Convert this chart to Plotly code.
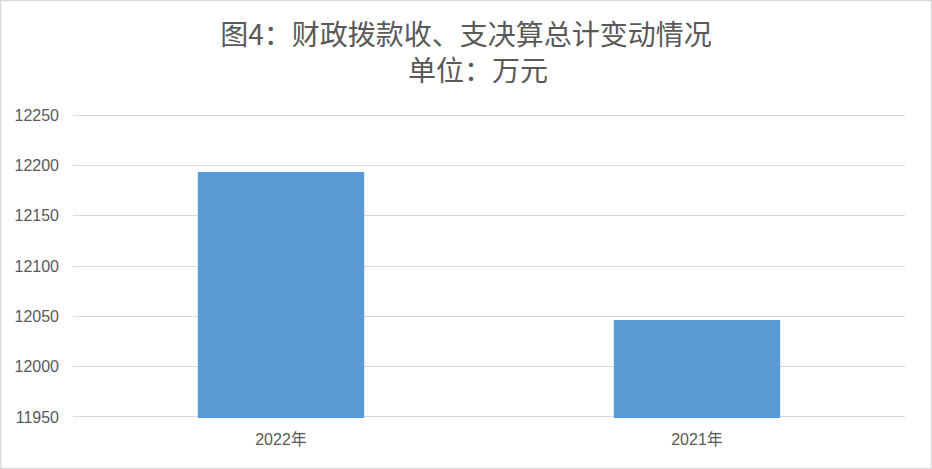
import plotly.graph_objects as go

categories = ["2022年", "2021年"]
values = [12193.4, 12046.3]
y_ticks = [11950, 12000, 12050, 12100, 12150, 12200, 12250]

fig = go.Figure()
fig.add_trace(go.Bar(
    x=categories, y=values, marker=dict(color="#5b9bd5", line=dict(width=0)),
    width=0.4,
))

title_font = dict(family="Noto Sans CJK SC", size=28, color="#595959")

fig.update_layout(
    width=932, height=469,
    margin=dict(l=73, r=27, t=114, b=51),
    paper_bgcolor="white", plot_bgcolor="white",
    title=dict(
        text="图4：财政拨款收、支决算总计变动情况",
        x=0.5, xanchor="center", xref="container",
        y=1 - 35 / 469, yanchor="middle", yref="container",
        font=title_font,
    ),
    annotations=[dict(
        text="单位：万元", xref="paper", yref="paper", x=0.5 - 23 / 832 / 2,
        y=1 + (114 - 69) / 304, xanchor="center", yanchor="middle",
        showarrow=False, font=title_font,
    )],
    showlegend=False,
    xaxis=dict(
        showline=False, ticks="", showgrid=False, ticklabelstandoff=10,
        tickfont=dict(family="Liberation Sans, Noto Sans CJK SC", size=16, color="#595959"),
    ),
    yaxis=dict(
        range=[11949, 12251], tickvals=y_ticks, ticktext=[str(v) for v in y_ticks],
        showgrid=True, gridcolor="#d9d9d9", gridwidth=1.3, zeroline=False,
        showline=False, ticks="", ticklabelstandoff=13,
        tickfont=dict(family="Liberation Sans", size=16, color="#595959"),
    ),
    shapes=[dict(type="rect", xref="paper", yref="paper", x0=-72.5/832, x1=1+26.5/832,
                 y0=-50.5/304, y1=1+113.5/304, line=dict(color="#d9d9d9", width=1.5))],
)

fig.write_html("out.html", config={"displayModeBar": False},
               post_script="document.body.style.margin='0';")
